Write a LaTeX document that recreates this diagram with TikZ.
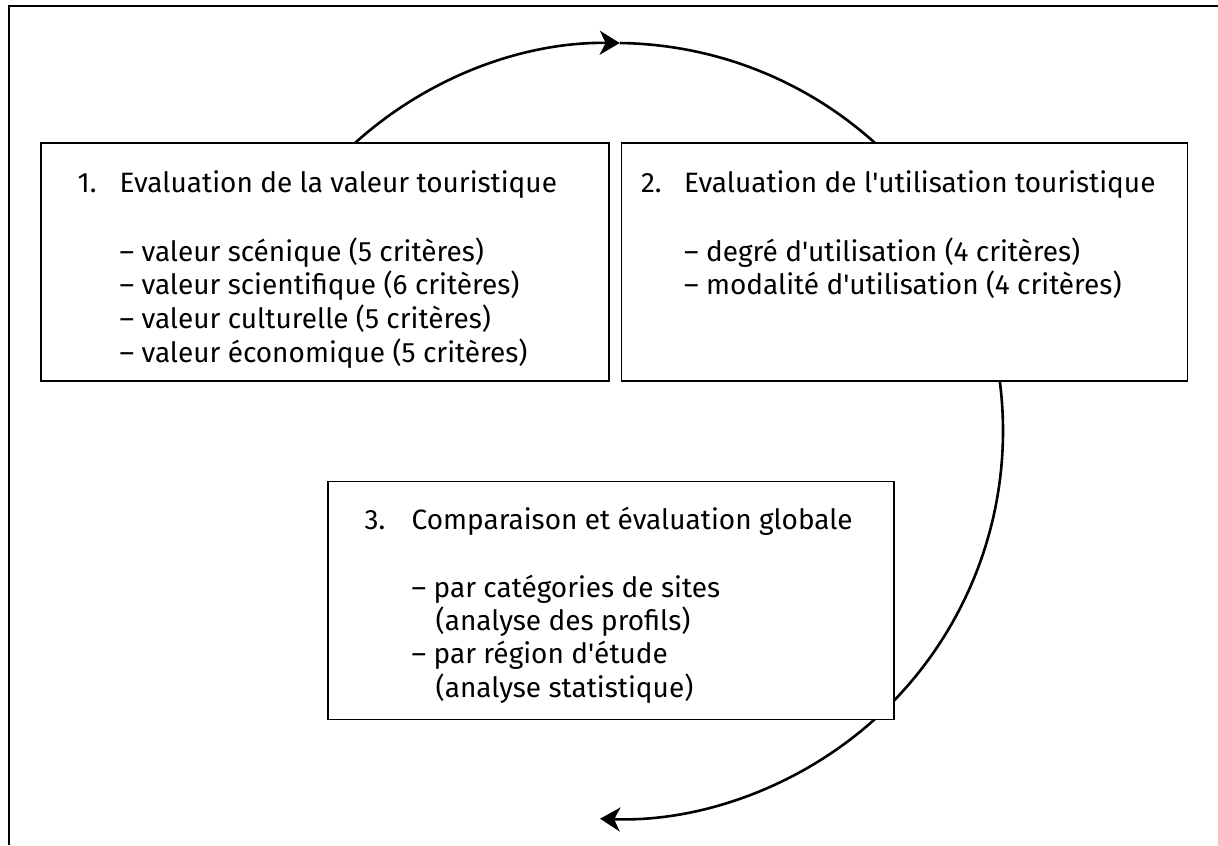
\documentclass[tikz,border=0pt]{standalone}
\usepackage{fontspec}
\setmainfont{Fira Sans}
\usetikzlibrary{arrows.meta,positioning,calc}

\begin{document}
\begin{tikzpicture}[
    x=0.5pt, y=0.5pt,
    node distance=5.5pt,
    box/.style={rectangle, draw, line width=0.7pt, fill=white, minimum width=283pt, minimum height=119pt, inner sep=0pt},
    txt/.style={align=left, inner sep=0pt, font=\fontsize{14}{16.5}\selectfont},
    cycle/.style={line width=1.3pt},
    tip/.style={-{Stealth[length=10pt, width=12pt, inset=3pt]}},
    frame/.style={line width=0.9pt}
  ]
    \useasboundingbox (0,0) rectangle (1218,845);
    % outer frame, top and left side only
    \draw[frame] (9,0) -- (9,839) -- (1218,839);

    % centre of the cycle
    \coordinate (hub) at (615,414);
    \draw[cycle, tip] ([shift={(132.1:388)}]hub) arc[start angle=132.1, end angle=89.3, radius=388];
    \draw[cycle] ([shift={(89.3:388)}]hub) arc[start angle=89.3, end angle=47.9, radius=388];
    \draw[cycle, tip] ([shift={(7.4:388)}]hub) arc[start angle=7.4, end angle=-92.2, radius=388];

    % the three steps
    \node[box, minimum width=284pt] (value) at (325,583) {};
    \node[box, right=of value] (usage) {};
    \node[box, below right=49.5pt and 143.5pt of value.south west] (compare) {};

    % texts
    \node[txt, below right=13.5pt and 18.5pt of value.north west] (valuetxt) {%
      \begin{tabular}{@{}p{21pt}@{}l@{}}
        1. & Evaluation de la valeur touristique\\[17.5pt]
           & – valeur scénique (5 critères)\\
           & – valeur scientifique (6 critères)\\
           & – valeur culturelle (5 critères)\\
           & – valeur économique (5 critères)
      \end{tabular}};
    \node[txt, below right=13.5pt and 10pt of usage.north west] (usagetxt) {%
      \begin{tabular}{@{}p{21.5pt}@{}l@{}}
        2. & Evaluation de l\textquotesingle utilisation touristique\\[17.5pt]
           & – degré d\textquotesingle utilisation (4 critères)\\
           & – modalité d\textquotesingle utilisation (4 critères)
      \end{tabular}};
    \node[txt, below right=12.5pt and 18.5pt of compare.north west] (comparetxt) {%
      \begin{tabular}{@{}p{23.5pt}@{}l@{}}
        3. & Comparaison et évaluation globale\\[17.5pt]
           & – par catégories de sites\\
           & \hspace*{12pt}(analyse des profils)\\
           & – par région d\textquotesingle étude\\
           & \hspace*{12pt}(analyse statistique)
      \end{tabular}};
\end{tikzpicture}
\end{document}
